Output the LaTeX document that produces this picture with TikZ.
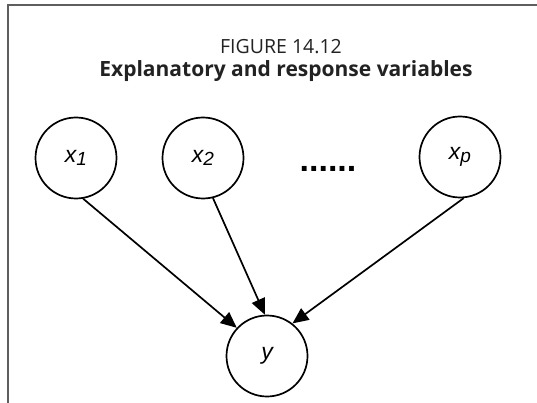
\documentclass[tikz,border=0pt]{standalone}
\usepackage{fontspec}
\setmainfont{Open Sans}
\newfontfamily\labfont{Liberation Sans}
\usetikzlibrary{arrows.meta}
\definecolor{framegray}{HTML}{5E5E5E}
\definecolor{titlegray}{HTML}{222222}
\newcommand{\subsc}[1]{\raisebox{-0.3ex}{\fontsize{19}{21}\selectfont #1}}
\tikzset{
  var/.style={circle, draw=black, line width=1.7pt, minimum size=81pt, inner sep=0pt, font=\labfont\itshape\fontsize{23}{26}\selectfont},
  conn/.style={line width=1.7pt, -{Triangle[length=16pt,width=14pt]}},
}
\begin{document}
\begin{tikzpicture}[x=1pt,y=-1pt]
\useasboundingbox (0,0) rectangle (537,403);
\fill[white] (0,0) rectangle (537,403);
\draw[framegray, line width=2pt] (537,5) -- (8,5) -- (8,403);
\node[text=titlegray] (t1) at (281,47) {\fontsize{19.5}{22}\selectfont FIGURE 14.12};
\node[text=titlegray] (t2) at (286,71) {\fontsize{21}{24}\selectfont\bfseries Explanatory and response variables};
\node[var] (x1) at (76,158) {x\subsc{1}};
\node[var] (x2) at (203,158) {x\subsc{2}};
\node[var] (xp) at (460,157) {x\subsc{p}};
\node[var] (y) at (267,356) {y};
\node (dots) at (328,169) {\labfont\fontsize{34}{36}\selectfont\bfseries ......};
\draw[conn] (x1.-80) -- (y.137);
\draw[conn] (x2.-76) -- (y.93);
\draw[conn] (xp.-85) -- (y.52);
\end{tikzpicture}
\end{document}
